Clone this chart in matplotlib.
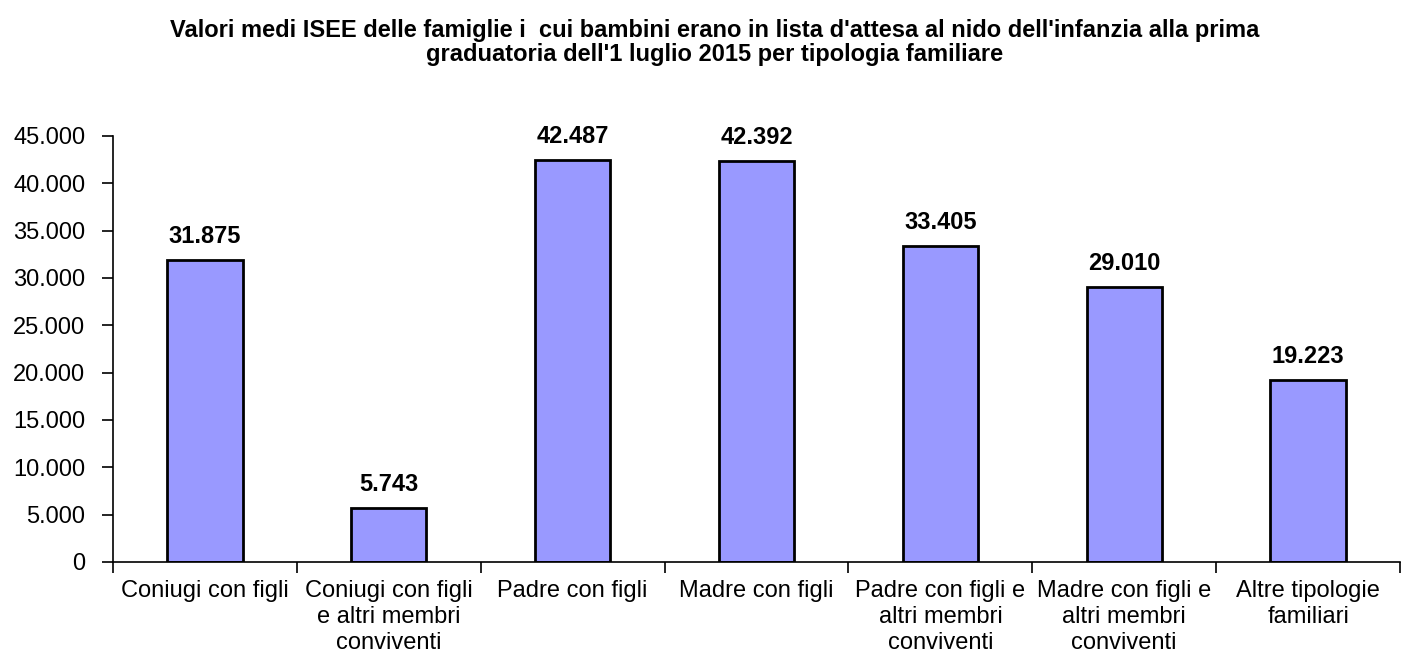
import matplotlib
matplotlib.use("Agg")
from matplotlib import pyplot as plt
import numpy as np

plt.rcParams['font.family'] = ['Liberation Sans', 'DejaVu Sans']

categories = ["Coniugi con figli",
              "Coniugi con figli\ne altri membri\nconviventi",
              "Padre con figli",
              "Madre con figli",
              "Padre con figli e\naltri membri\nconviventi",
              "Madre con figli e\naltri membri\nconviventi",
              "Altre tipologie\nfamiliari"]
values = [31875, 5743, 42487, 42392, 33405, 29010, 19223]
value_labels = ["31.875", "5.743", "42.487", "42.392", "33.405", "29.010", "19.223"]
yticks = [0, 5000, 10000, 15000, 20000, 25000, 30000, 35000, 40000, 45000]
ytick_labels = ["0", "5.000", "10.000", "15.000", "20.000", "25.000",
                "30.000", "35.000", "40.000", "45.000"]

title = ("Valori medi ISEE delle famiglie i  cui bambini erano in lista d'attesa al nido dell'infanzia alla prima\n"
         "graduatoria dell'1 luglio 2015 per tipologia familiare")

fig = plt.figure(figsize=(14.02, 6.56), dpi=100)
ax = fig.add_axes([0.0806, 0.1433, 0.918, 0.6494])

x = np.arange(len(values))
ax.bar(x, values, width=0.41, color="#9999FF", edgecolor="black", linewidth=2)

for xi, v, lab in zip(x, values, value_labels):
    ax.text(xi, v + 1800, lab, ha="center", va="baseline", fontsize=17, fontweight="bold")

ax.set_xlim(-0.5, len(values) - 0.5)
ax.set_ylim(0, 45000)
ax.set_yticks(yticks)
ax.set_yticklabels(ytick_labels, fontsize=17)

# ticks between categories, labels centred under bars
ax.set_xticks(np.arange(len(values) + 1) - 0.5)
ax.set_xticklabels([])
ax.set_xticks(x, minor=True)
ax.set_xticklabels(categories, minor=True, fontsize=17, linespacing=1.24)
ax.tick_params(axis="x", which="minor", length=0, pad=13)
ax.tick_params(axis="x", which="major", length=8, width=1.2)
ax.tick_params(axis="y", length=8, width=1.2, pad=12)

for s in ["top", "right"]:
    ax.spines[s].set_visible(False)
ax.spines["left"].set_linewidth(1.2)
ax.spines["bottom"].set_linewidth(1.2)

fig.text(0.51, 0.971, title, ha="center", va="top", fontsize=17,
         fontweight="bold", linespacing=1.08)

fig.savefig("out.png", dpi=100)
